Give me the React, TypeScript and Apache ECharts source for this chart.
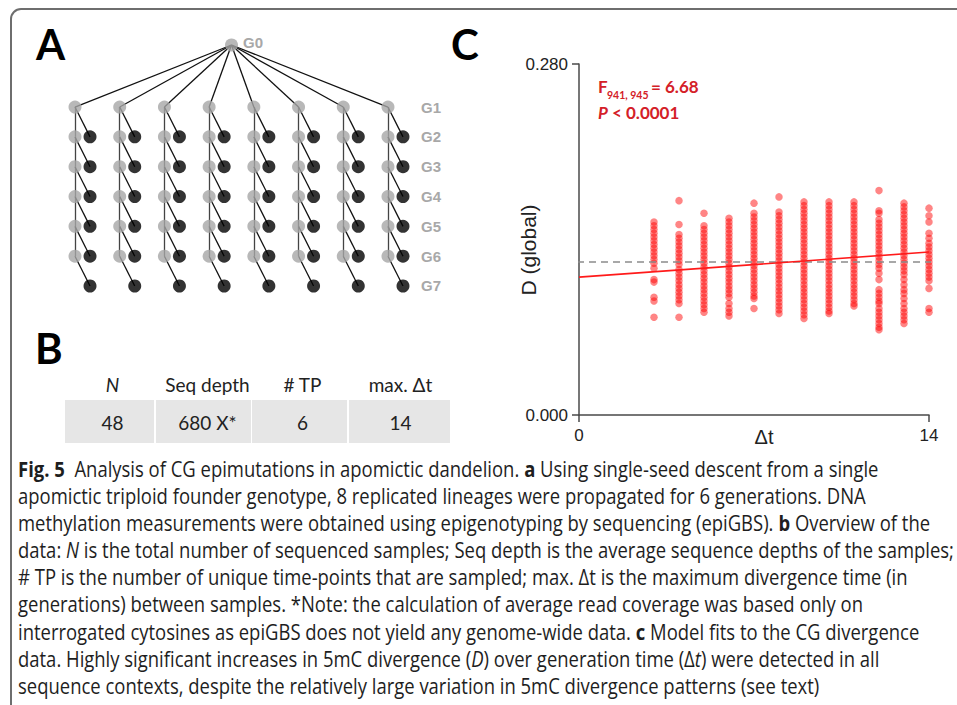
import React, { useEffect, useRef } from "react";
import * as echarts from "echarts";

// ---------- Panel C data ----------
const dtColumns = [3, 4, 5, 6, 7, 8, 9, 10, 11, 12, 13, 14];
const dCol3 = [0.154, 0.151, 0.148, 0.145, 0.142, 0.139, 0.136, 0.133, 0.130, 0.127, 0.124, 0.121, 0.117, 0.108, 0.106, 0.094, 0.091, 0.078];
const dCol4 = [0.171, 0.152, 0.144, 0.141, 0.138, 0.135, 0.132, 0.129, 0.126, 0.123, 0.120, 0.116, 0.113, 0.110, 0.107, 0.104, 0.101, 0.098, 0.095, 0.092, 0.089, 0.078];
const dCol5 = [0.161, 0.151, 0.148, 0.145, 0.142, 0.139, 0.136, 0.133, 0.130, 0.127, 0.124, 0.121, 0.118, 0.115, 0.112, 0.109, 0.106, 0.103, 0.100, 0.097, 0.094, 0.091, 0.088, 0.085, 0.082];
const dCol6 = [0.157, 0.154, 0.151, 0.148, 0.145, 0.142, 0.139, 0.136, 0.133, 0.130, 0.127, 0.124, 0.121, 0.118, 0.115, 0.112, 0.109, 0.106, 0.103, 0.100, 0.097, 0.094, 0.089, 0.085, 0.082, 0.079];
const dCol7 = [0.169, 0.161, 0.158, 0.155, 0.152, 0.149, 0.146, 0.143, 0.140, 0.137, 0.134, 0.131, 0.128, 0.125, 0.122, 0.119, 0.116, 0.113, 0.110, 0.107, 0.104, 0.101, 0.098, 0.095, 0.093, 0.085];
const dCol8 = [0.174, 0.162, 0.159, 0.156, 0.153, 0.150, 0.147, 0.144, 0.141, 0.138, 0.135, 0.132, 0.129, 0.126, 0.123, 0.120, 0.117, 0.114, 0.111, 0.108, 0.105, 0.102, 0.099, 0.096, 0.093, 0.090, 0.087, 0.084, 0.081];
const dCol9 = [0.170, 0.167, 0.164, 0.161, 0.158, 0.155, 0.152, 0.149, 0.146, 0.143, 0.140, 0.137, 0.134, 0.131, 0.128, 0.125, 0.122, 0.119, 0.116, 0.113, 0.110, 0.107, 0.104, 0.101, 0.098, 0.095, 0.092, 0.089, 0.086, 0.083, 0.080, 0.077];
const dCol10 = [0.170, 0.167, 0.164, 0.161, 0.158, 0.155, 0.152, 0.149, 0.146, 0.143, 0.140, 0.137, 0.134, 0.131, 0.128, 0.125, 0.122, 0.119, 0.116, 0.113, 0.110, 0.107, 0.104, 0.101, 0.098, 0.095, 0.092, 0.089, 0.086, 0.083, 0.081];
const dCol11 = [0.170, 0.167, 0.164, 0.161, 0.158, 0.155, 0.152, 0.149, 0.146, 0.143, 0.140, 0.137, 0.134, 0.131, 0.128, 0.125, 0.122, 0.119, 0.116, 0.113, 0.110, 0.107, 0.104, 0.101, 0.098, 0.095, 0.092, 0.089, 0.087];
const dCol12 = [0.179, 0.163, 0.161, 0.156, 0.153, 0.150, 0.147, 0.144, 0.141, 0.138, 0.135, 0.132, 0.129, 0.126, 0.123, 0.120, 0.117, 0.113, 0.108, 0.100, 0.097, 0.094, 0.091, 0.089, 0.085, 0.082, 0.079, 0.076, 0.073, 0.070, 0.068];
const dCol13 = [0.169, 0.166, 0.163, 0.160, 0.157, 0.154, 0.151, 0.148, 0.145, 0.142, 0.139, 0.136, 0.133, 0.130, 0.127, 0.124, 0.121, 0.118, 0.115, 0.112, 0.108, 0.104, 0.100, 0.097, 0.093, 0.089, 0.085, 0.082, 0.079, 0.076, 0.073];
const dCol14 = [0.165, 0.159, 0.154, 0.145, 0.141, 0.137, 0.134, 0.131, 0.128, 0.125, 0.122, 0.119, 0.116, 0.113, 0.110, 0.107, 0.101, 0.085, 0.082];
const dByColumn = [dCol3, dCol4, dCol5, dCol6, dCol7, dCol8, dCol9, dCol10, dCol11, dCol12, dCol13, dCol14];

const regressionX = [0, 14];
const regressionD = [0.110, 0.130];
const referenceD = 0.122;
const referenceX = [-0.56, 14.56];
const xAxisRange = [0, 14];
const yAxisRange = [0, 0.28];

// ---------- Panel A structure ----------
const LINEAGES = 8;
const GENERATIONS = 7;
const G0_ROW = -1.08;
const CHILD_OFFSET = 0.336;
const generationLabels = ["G0", "G1", "G2", "G3", "G4", "G5", "G6", "G7"];

// ---------- Panel B ----------
const tableHeaders = ["N", "Seq depth", "# TP", "max. Δt"];
const tableValues = ["48", "680 X*", "6", "14"];

// ---------- Caption ----------
const captionLines = [
  "{b|Fig. 5}  Analysis of CG epimutations in apomictic dandelion. {b|a} Using single-seed descent from a single",
  "apomictic triploid founder genotype, 8 replicated lineages were propagated for 6 generations. DNA",
  "methylation measurements were obtained using epigenotyping by sequencing (epiGBS). {b|b} Overview of the",
  "data: {i|N} is the total number of sequenced samples; Seq depth is the average sequence depths of the samples;",
  "# TP is the number of unique time-points that are sampled; max. Δt is the maximum divergence time (in",
  "generations) between samples. *Note: the calculation of average read coverage was based only on",
  "interrogated cytosines as epiGBS does not yield any genome-wide data. {b|c} Model fits to the CG divergence",
  "data. Highly significant increases in 5mC divergence ({i|D}) over generation time (Δ{i|t}) were detected in all",
  "sequence contexts, despite the relatively large variation in 5mC divergence patterns (see text)",
];

const RED_TEXT = "#d42027";
const CAP_FONT = "Open Sans";
const CAP_SIZE = 21;
const CAP_LEFT = 18;
const CAP_LINE4_RIGHT = 955;

function measure(text: string, font: string): number {
  const c = document.createElement("canvas");
  const ctx = c.getContext("2d");
  if (!ctx) return text.length * 10;
  ctx.font = font;
  return ctx.measureText(text).width;
}

export default function App() {
  const ref = useRef<HTMLDivElement>(null);

  useEffect(() => {
    if (!ref.current) return;
    const chart = echarts.init(ref.current, undefined, { renderer: "svg" });

    const scatterData: number[][] = [];
    dtColumns.forEach((dt, i) => {
      dByColumn[i].forEach((d) => scatterData.push([dt, d]));
    });

    const grayNodes: number[][] = [[(LINEAGES - 1) / 2, G0_ROW]];
    const blackNodes: number[][] = [];
    const edges: any[] = [];
    for (let l = 0; l < LINEAGES; l++) {
      edges.push({ coords: [[(LINEAGES - 1) / 2, G0_ROW], [l, 1]], lineStyle: { color: "#111" } });
      for (let g = 1; g <= GENERATIONS - 1; g++) {
        grayNodes.push([l, g]);
        if (g < GENERATIONS - 1) {
          edges.push({ coords: [[l, g], [l, g + 1]], lineStyle: { color: "#444" } });
        }
        edges.push({ coords: [[l, g], [l + CHILD_OFFSET, g + 1]], lineStyle: { color: "#111" } });
        blackNodes.push([l + CHILD_OFFSET, g + 1]);
      }
    }

    const plain = (s: string) => s.replace(/\{[bi]\|([^}]*)\}/g, "$1");
    const w4 = measure(plain(captionLines[3]), `${CAP_SIZE}px '${CAP_FONT}'`);
    const capScale = (CAP_LINE4_RIGHT - CAP_LEFT) / w4;

    const graphics: any[] = [];
    graphics.push({
      type: "rect",
      shape: { x: 11, y: 9, width: 980, height: 740, r: 10 },
      style: { fill: "none", stroke: "#6e6e6e", lineWidth: 2 },
      silent: true,
    });
    const letter = (t: string, x: number, y: number) => ({
      type: "text",
      x,
      y,
      style: {
        text: t,
        fontFamily: "Lato",
        fontWeight: "bold",
        fontSize: 42,
        fill: "#000",
        textAlign: "left",
        textVerticalAlign: "middle",
      },
    });
    graphics.push(letter("A", 36, 44));
    graphics.push(letter("B", 35, 348));
    graphics.push(letter("C", 451, 44));

    const gLabelStyle = { fontFamily: "Liberation Sans", fontWeight: "bold", fontSize: 15, fill: "#a8a8a8", textVerticalAlign: "middle" };
    graphics.push({ type: "text", x: 243, y: 42, style: { ...gLabelStyle, text: generationLabels[0] } });
    for (let g = 1; g <= GENERATIONS; g++) {
      graphics.push({
        type: "text",
        x: 421,
        y: 107 + (g - 1) * 29.83,
        style: { ...gLabelStyle, text: generationLabels[g] },
      });
    }

    // table
    const cellX = [65, 156, 252, 349];
    const cellW = [89, 95, 95, 101];
    const headerShift = [3, 4, 3, 1];
    tableHeaders.forEach((h, i) => {
      graphics.push({
        type: "rect",
        shape: { x: cellX[i], y: 400, width: cellW[i], height: 43 },
        style: { fill: "#e6e6e6" },
      });
      graphics.push({
        type: "text",
        x: cellX[i] + cellW[i] / 2 + headerShift[i],
        y: 384,
        style: {
          text: h,
          fontFamily: "Lato",
          fontSize: 19,
          fontStyle: i === 0 ? "italic" : "normal",
          fill: "#222",
          textAlign: "center",
          textVerticalAlign: "middle",
        },
      });
      graphics.push({
        type: "text",
        x: cellX[i] + cellW[i] / 2 + headerShift[i],
        y: 422,
        style: {
          text: tableValues[i],
          fontFamily: "Lato",
          fontSize: 19,
          fill: "#222",
          textAlign: "center",
          textVerticalAlign: "middle",
        },
      });
    });

    // stats annotation
    graphics.push({
      type: "text", x: 598, y: 86,
      style: { text: "F", fontFamily: "Lato", fontWeight: "bold", fontSize: 17, fill: RED_TEXT, textVerticalAlign: "middle" },
    });
    graphics.push({
      type: "text", x: 607, y: 95,
      style: { text: "941, 945", fontFamily: "Lato", fontWeight: "bold", fontSize: 10.5, fill: RED_TEXT, textVerticalAlign: "middle" },
    });
    graphics.push({
      type: "text", x: 651, y: 86,
      style: { text: "= 6.68", fontFamily: "Lato", fontWeight: "bold", fontSize: 17, fill: RED_TEXT, textVerticalAlign: "middle" },
    });
    graphics.push({
      type: "text", x: 598, y: 112,
      style: {
        text: "{i|P} < 0.0001",
        fontFamily: "Lato", fontWeight: "bold", fontSize: 17, fill: RED_TEXT, textVerticalAlign: "middle",
        rich: { i: { fontFamily: "Lato", fontWeight: "bold", fontStyle: "italic", fontSize: 17, fill: RED_TEXT } },
      },
    });

    // axis titles
    graphics.push({
      type: "text", x: 764, y: 437,
      style: { text: "Δt", fontFamily: "Liberation Sans", fontSize: 20, fill: "#222", textAlign: "center", textVerticalAlign: "middle" },
    });
    graphics.push({
      type: "text", x: 528, y: 250, rotation: Math.PI / 2,
      style: { text: "D (global)", fontFamily: "Liberation Sans", fontSize: 21, fill: "#222", textAlign: "center", textVerticalAlign: "middle" },
    });

    // caption
    captionLines.forEach((line, i) => {
      graphics.push({
        type: "text",
        x: CAP_LEFT,
        y: 469 + i * 27.1,
        scaleX: capScale,
        style: {
          text: line,
          fontFamily: CAP_FONT,
          fontSize: CAP_SIZE,
          fill: "#1e1e1e",
          textVerticalAlign: "middle",
          rich: {
            b: { fontFamily: CAP_FONT, fontSize: CAP_SIZE, fontWeight: "bold", fill: "#1e1e1e" },
            i: { fontFamily: CAP_FONT, fontSize: CAP_SIZE, fontStyle: "italic", fill: "#1e1e1e" },
          },
        },
      });
    });

    const axisColor = "#4a4a4a";

    chart.setOption({
      animation: false,
      backgroundColor: "#ffffff",
      grid: [
        { left: 579, top: 64, width: 350, height: 351, containLabel: false },
        { left: 75, top: 45, width: 328, height: 241, containLabel: false },
      ],
      xAxis: [
        {
          type: "value",
          gridIndex: 0,
          min: xAxisRange[0],
          max: xAxisRange[1],
          interval: 14,
          splitLine: { show: false },
          axisLine: { show: true, lineStyle: { color: axisColor, width: 1.5 } },
          axisTick: { show: true, length: 7, lineStyle: { color: axisColor, width: 1.5 } },
          axisLabel: { fontFamily: "Liberation Sans", fontSize: 17, color: "#222", margin: 12 },
        },
        { type: "value", gridIndex: 1, min: 0, max: 7.336, show: false },
      ],
      yAxis: [
        {
          type: "value",
          gridIndex: 0,
          min: yAxisRange[0],
          max: yAxisRange[1],
          interval: 0.28,
          splitLine: { show: false },
          axisLine: { show: true, lineStyle: { color: axisColor, width: 1.5 } },
          axisTick: { show: true, length: 7, lineStyle: { color: axisColor, width: 1.5 } },
          axisLabel: { fontFamily: "Liberation Sans", fontSize: 17, color: "#222", margin: 11, formatter: (v: number) => v.toFixed(3) },
        },
        { type: "value", gridIndex: 1, min: G0_ROW, max: GENERATIONS, inverse: true, show: false },
      ],
      series: [
        {
          type: "scatter",
          xAxisIndex: 0,
          yAxisIndex: 0,
          data: scatterData,
          symbolSize: 7.5,
          itemStyle: { color: "rgba(255,0,0,0.6)" },
          z: 2,
          silent: true,
        },
        {
          type: "line",
          xAxisIndex: 0,
          yAxisIndex: 0,
          data: referenceX.map((x) => [x, referenceD]),
          clip: false,
          symbol: "none",
          lineStyle: { color: "#8c8c8c", width: 1.5, type: [7, 5] },
          z: 3,
          silent: true,
        },
        {
          type: "line",
          xAxisIndex: 0,
          yAxisIndex: 0,
          data: regressionX.map((x, i) => [x, regressionD[i]]),
          symbol: "none",
          lineStyle: { color: "#ff1a1a", width: 1.6 },
          z: 4,
          silent: true,
        },
        {
          type: "lines",
          coordinateSystem: "cartesian2d",
          xAxisIndex: 1,
          yAxisIndex: 1,
          data: edges,
          lineStyle: { width: 1.3, opacity: 1 },
          z: 1,
          silent: true,
        },
        {
          type: "scatter",
          xAxisIndex: 1,
          yAxisIndex: 1,
          data: grayNodes,
          symbolSize: 13,
          clip: false,
          itemStyle: { color: "#a6a6a6" },
          z: 2,
          silent: true,
        },
        {
          type: "scatter",
          xAxisIndex: 1,
          yAxisIndex: 1,
          data: blackNodes,
          symbolSize: 13,
          clip: false,
          itemStyle: { color: "#000000" },
          z: 2,
          silent: true,
        },
      ],
      graphic: graphics,
    });

    return () => chart.dispose();
  }, []);

  return (
    <div
      ref={ref}
      style={{ position: "fixed", left: 0, top: 0, width: 957, height: 705, background: "#fff" }}
    />
  );
}
